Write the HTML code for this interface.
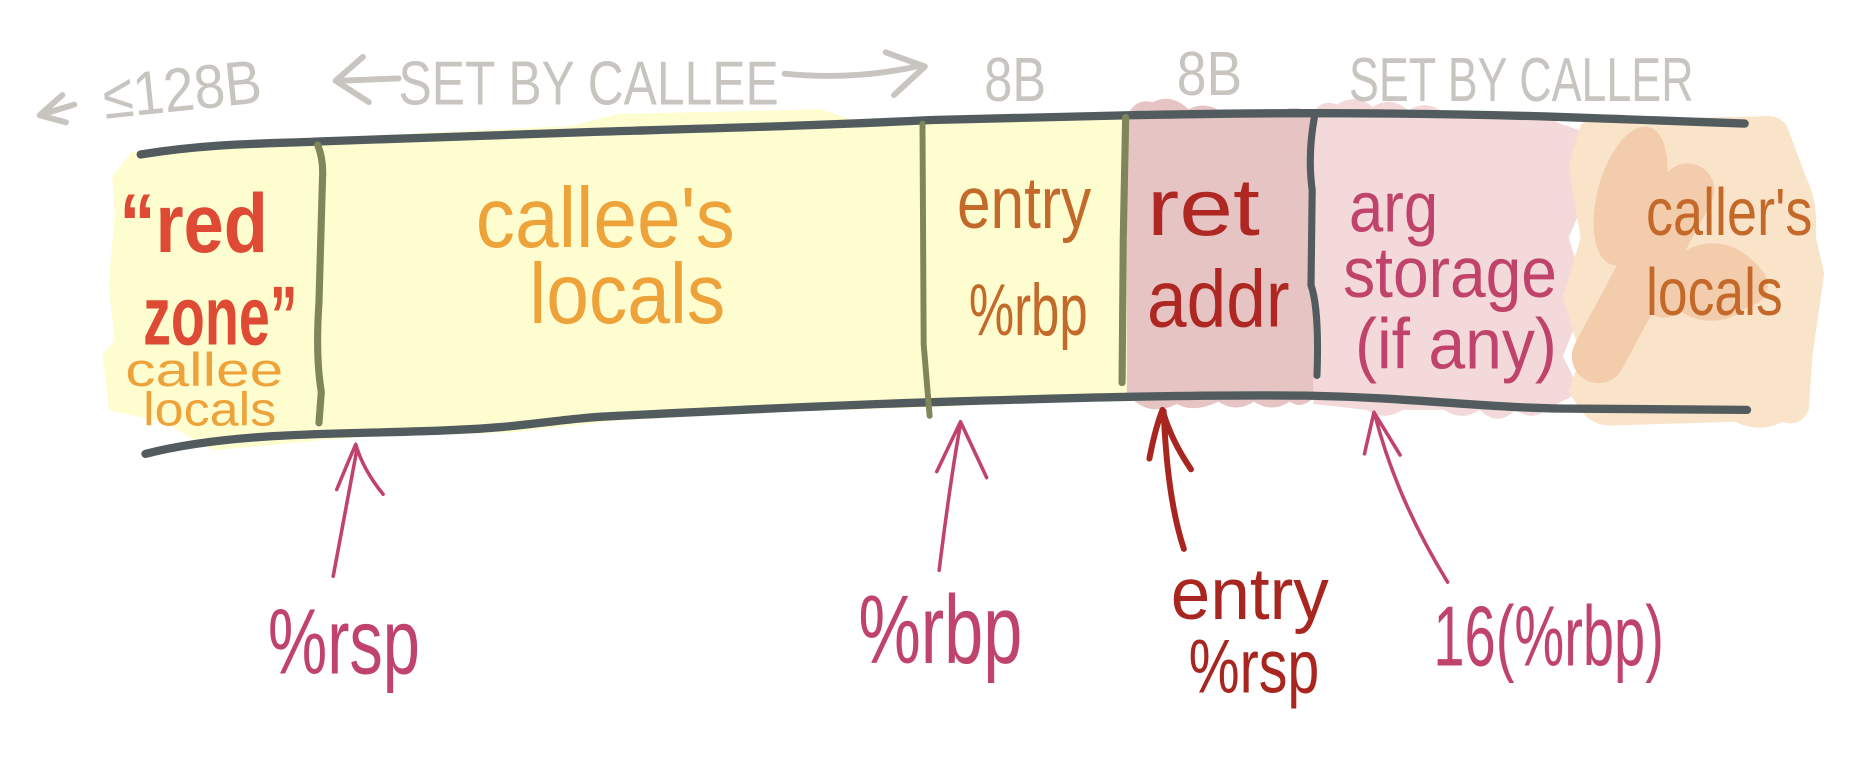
<!DOCTYPE html>
<html><head><meta charset="utf-8"><style>
html,body{margin:0;padding:0;background:#fff;}
svg{display:block;}
text{font-family:"Liberation Sans Narrow","Liberation Sans",sans-serif;}
</style></head><body>
<svg width="1864" height="758" viewBox="0 0 1568 638" xmlns="http://www.w3.org/2000/svg">
<rect width="1568" height="638" fill="#fff"/>
<!-- fills -->
<path d="M112,132 L270,120 L480,110 L520,100 L690,96 L720,106 L790,103 L950,98 L950,330 L800,338 L650,343 L520,350 L430,360 L300,364 L180,375 L140,352 L95,342 L90,300 L100,288 L95,240 L100,180 L98,150 Z" fill="#fefdd0" stroke="#fefdd0" stroke-width="8" stroke-linejoin="round"/>
<path d="M948,98 Q955,82 970,86 Q985,78 1000,92 Q1015,84 1030,96 Q1050,88 1070,96 Q1090,86 1105,96 L1105,335 Q1095,345 1085,338 Q1070,348 1055,338 Q1040,348 1025,338 Q1005,348 990,340 Q970,350 955,338 L948,330 Z" fill="#e6c4c3"/>
<path d="M1105,96 Q1110,83 1125,88 Q1140,78 1155,90 Q1170,80 1185,93 Q1200,83 1215,95 Q1230,90 1240,100 L1270,98 Q1290,88 1310,103 L1330,110 L1345,140 L1320,200 L1335,250 L1315,300 L1330,330 L1300,345 Q1290,355 1275,345 Q1260,360 1245,345 Q1230,355 1215,345 L1180,345 Q1165,355 1150,345 L1105,340 Z" fill="#f3d9d9"/>
<path d="M1330,105 Q1350,90 1380,100 L1480,98 Q1500,95 1505,110 L1520,150 Q1530,170 1528,200 L1535,230 L1525,300 L1522,345 Q1515,360 1500,355 Q1480,365 1460,355 L1360,358 Q1340,360 1330,345 L1320,330 L1330,300 L1315,250 L1330,200 L1320,140 Z" fill="#f9e4c9"/>
<g fill="#f3ccab">
<ellipse cx="1372" cy="165" rx="28" ry="60" transform="rotate(15 1372 165)"/>
<ellipse cx="1440" cy="240" rx="38" ry="30"/>
</g>
<path d="M1345,300 L1420,160" stroke="#f3ccab" stroke-width="45" stroke-linecap="round" fill="none"/>
<path d="M1400,250 Q1440,200 1470,240" stroke="#f3ccab" stroke-width="35" stroke-linecap="round" fill="none"/>
<!-- box lines -->
<path d="M118,130 C180,120 230,121 270,119 C380,115 440,113 500,111 C600,108 680,106 784,101 C850,99 900,98 950,97 C1050,95 1150,94 1300,98 L1468,104" fill="none" stroke="#525c5e" stroke-width="7" stroke-linecap="round"/>
<path d="M122,382 C200,362 300,366 380,362 C440,360 470,352 520,350 C600,346 700,341 800,338 C900,335 1000,332 1100,333 C1200,335 1250,344 1330,344 L1470,345" fill="none" stroke="#525c5e" stroke-width="7" stroke-linecap="round"/>
<!-- dividers -->
<path d="M267,122 Q272,135 271,150 L268,255 Q265,300 270,330 L268,356" fill="none" stroke="#7f8659" stroke-width="6" stroke-linecap="round"/>
<path d="M776,104 L777,290 L782,350" fill="none" stroke="#7f8659" stroke-width="5" stroke-linecap="round"/>
<path d="M947,99 L945,200 L944,322" fill="none" stroke="#7f8659" stroke-width="6" stroke-linecap="round"/>
<path d="M1106,98 Q1100,130 1104,160 L1103,240 Q1110,260 1108,316" fill="none" stroke="#525c5e" stroke-width="6" stroke-linecap="round"/>
<!-- header -->
<g fill="none" stroke="#c8c5c0" stroke-width="5" stroke-linecap="round" stroke-linejoin="round">
<path d="M62,88 L36,96 M52,80 L33,97 L55,103"/>
<path d="M335,66 L285,68 M305,48 L282,68 L310,86"/>
<path d="M660,62 Q720,68 775,55 M745,44 L778,56 L752,80"/>
</g>
<g fill="#c8c5c0" font-size="52">
<text x="88" y="100" textLength="134" lengthAdjust="spacingAndGlyphs" transform="rotate(-6 88 100)">≤128B</text>
<text x="335" y="88" textLength="320" lengthAdjust="spacingAndGlyphs">SET BY CALLEE</text>
<text x="828" y="85" textLength="52" lengthAdjust="spacingAndGlyphs">8B</text>
<text x="990" y="80" textLength="55" lengthAdjust="spacingAndGlyphs">8B</text>
<text x="1135" y="85" textLength="290" lengthAdjust="spacingAndGlyphs">SET BY CALLER</text>
</g>
<!-- inner labels -->
<g fill="#de4a34" font-size="70" font-weight="bold">
<text x="100" y="212" textLength="125" lengthAdjust="spacingAndGlyphs">“red</text>
<text x="120" y="290" textLength="130" lengthAdjust="spacingAndGlyphs">zone”</text>
</g>
<g fill="#eea23a">
<text x="105" y="325" font-size="40" textLength="133" lengthAdjust="spacingAndGlyphs">callee</text>
<text x="120" y="358" font-size="40" textLength="112" lengthAdjust="spacingAndGlyphs">locals</text>
<text x="400" y="208" font-size="72" textLength="218" lengthAdjust="spacingAndGlyphs">callee's</text>
<text x="445" y="272" font-size="72" textLength="165" lengthAdjust="spacingAndGlyphs">locals</text>
</g>
<g fill="#c36a2a" font-size="62">
<text x="805" y="192" textLength="113" lengthAdjust="spacingAndGlyphs">entry</text>
<text x="815" y="282" textLength="100" lengthAdjust="spacingAndGlyphs">%rbp</text>
</g>
<g fill="#ae2722" font-size="68">
<text x="965" y="198" textLength="95" lengthAdjust="spacingAndGlyphs">ret</text>
<text x="965" y="275" textLength="120" lengthAdjust="spacingAndGlyphs">addr</text>
</g>
<g fill="#c0436b" font-size="60">
<text x="1135" y="195" textLength="75" lengthAdjust="spacingAndGlyphs">arg</text>
<text x="1130" y="250" textLength="180" lengthAdjust="spacingAndGlyphs">storage</text>
<text x="1140" y="310" textLength="170" lengthAdjust="spacingAndGlyphs">(if any)</text>
</g>
<g fill="#c4692a" font-size="56">
<text x="1385" y="198" textLength="140" lengthAdjust="spacingAndGlyphs">caller's</text>
<text x="1385" y="265" textLength="115" lengthAdjust="spacingAndGlyphs">locals</text>
</g>
<!-- arrows -->
<g fill="none" stroke="#c0436b" stroke-width="3" stroke-linecap="round" stroke-linejoin="round">
<path d="M280,485 Q292,420 300,378 M283,412 Q292,390 299,374 Q305,395 322,416"/>
<path d="M790,480 Q800,400 808,357 M788,397 L808,355 L830,402"/>
<path d="M1218,490 Q1175,420 1157,350 M1148,382 L1156,347 L1178,383"/>
</g>
<path d="M996,462 Q982,420 979,346 M967,386 Q972,360 978,345 Q985,370 1002,395" fill="none" stroke="#a8261f" stroke-width="5" stroke-linecap="round" stroke-linejoin="round"/>
<!-- bottom labels -->
<g fill="#c0436b">
<text x="225" y="567" font-size="78" textLength="128" lengthAdjust="spacingAndGlyphs">%rsp</text>
<text x="722" y="558" font-size="82" textLength="138" lengthAdjust="spacingAndGlyphs">%rbp</text>
<text x="1206" y="560" font-size="72" textLength="194" lengthAdjust="spacingAndGlyphs">16(%rbp)</text>
</g>
<g fill="#a8261f">
<text x="985" y="521" font-size="62" textLength="133" lengthAdjust="spacingAndGlyphs">entry</text>
<text x="1000" y="583" font-size="64" textLength="110" lengthAdjust="spacingAndGlyphs">%rsp</text>
</g>
</svg>
</body></html>
